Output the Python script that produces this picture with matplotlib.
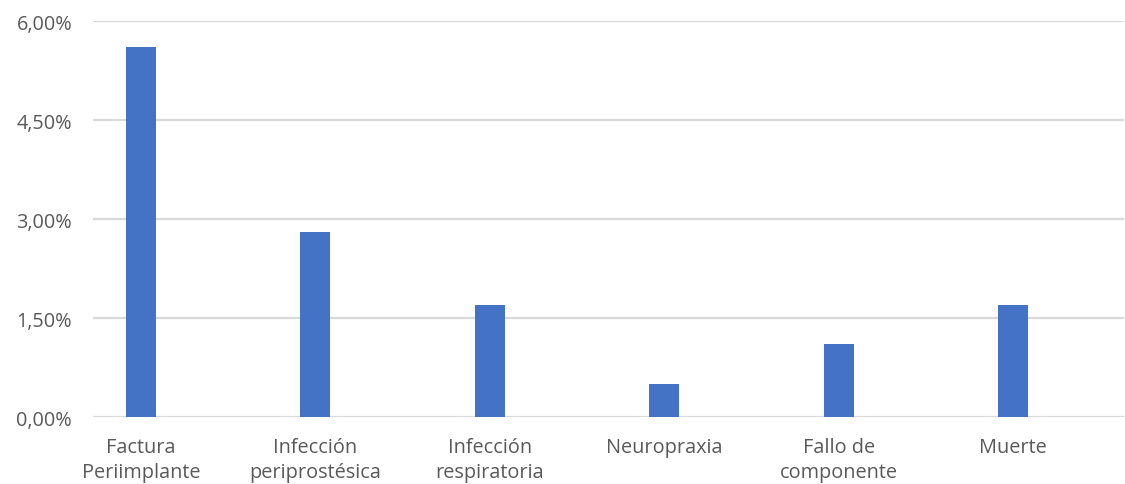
import matplotlib
matplotlib.use("Agg")
import matplotlib.pyplot as plt
from matplotlib.ticker import FuncFormatter

categories = ["Factura\nPeriimplante", "Infección\nperiprostésica", "Infección\nrespiratoria",
              "Neuropraxia", "Fallo de\ncomponente", "Muerte"]
values = [5.6, 2.8, 1.7, 0.5, 1.1, 1.7]
yticks = [0.0, 1.5, 3.0, 4.5, 6.0]

plt.rcParams['font.family'] = ['Open Sans', 'DejaVu Sans']

fig = plt.figure(figsize=(11.25, 4.85), dpi=100)
ax = fig.add_axes([0.0827, 0.138, 0.9163, 0.8166])

x = list(range(len(categories)))
ax.bar(x, values, width=0.172, color="#4472C4", zorder=3)

ax.set_ylim(0, 6.0)
ax.set_xlim(-0.275, 5.636)
ax.set_yticks(yticks)
ax.yaxis.set_major_formatter(FuncFormatter(lambda v, p: f"{v:.2f}".replace(".", ",") + "%"))
ax.set_xticks(x)
ax.set_xticklabels(categories, linespacing=1.35)

ax.grid(axis="y", color="#d9d9d9", linewidth=1.6, zorder=0)
for s in ["top", "right", "left", "bottom"]:
    ax.spines[s].set_visible(False)
ax.tick_params(axis="both", length=0, labelsize=14.3, colors="#595959")
ax.tick_params(axis="y", pad=15)
ax.tick_params(axis="x", pad=14)

fig.savefig("out.png", dpi=100)
